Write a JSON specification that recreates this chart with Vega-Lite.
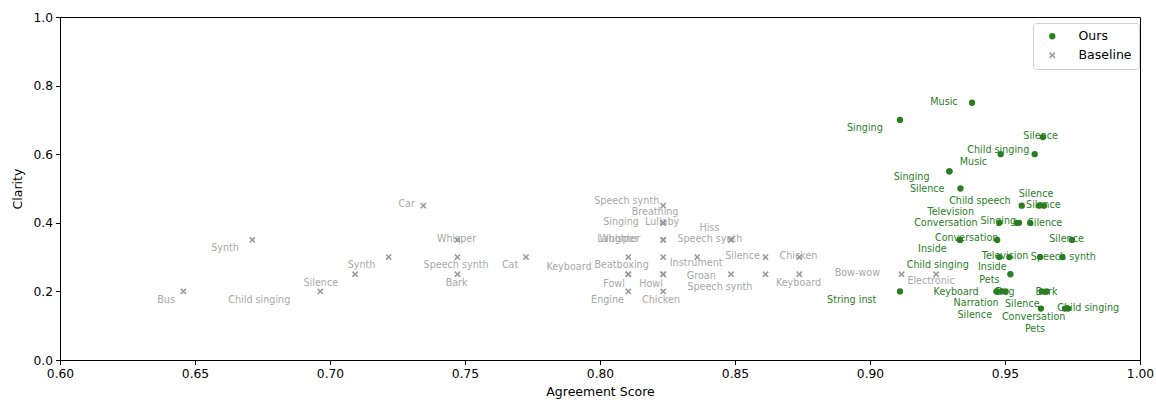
{
  "$schema": "https://vega.github.io/schema/vega-lite/v6.json",
  "width": 1080,
  "height": 343,
  "autosize": {"type": "none"},
  "padding": {"left": 60, "top": 17, "right": 16, "bottom": 40},
  "background": "white",
  "config": {
    "font": "DejaVu Sans",
    "view": {"stroke": "#000000", "strokeWidth": 1},
    "axis": {
      "domain": false,
      "grid": false,
      "tickColor": "#000000",
      "tickSize": 4.5,
      "tickWidth": 1,
      "labelColor": "#000000",
      "labelFont": "DejaVu Sans",
      "labelFontSize": 12.3,
      "labelFlush": false,
      "labelOverlap": false,
      "titleFont": "DejaVu Sans",
      "titleFontSize": 12.5,
      "titleFontWeight": "normal",
      "titleColor": "#000000"
    }
  },
  "data": {
    "values": [
      {"series": "Baseline", "score": 0.6457, "clarity": 0.20, "label": "Bus", "label_x": 0.6393, "label_y": 0.175},
      {"series": "Baseline", "score": 0.6712, "clarity": 0.35, "label": "Synth", "label_x": 0.6611, "label_y": 0.326},
      {"series": "Baseline", "score": 0.6964, "clarity": 0.20, "label": "Child singing", "label_x": 0.6738, "label_y": 0.175},
      {"series": "Baseline", "score": 0.7093, "clarity": 0.25, "label": "Silence", "label_x": 0.6966, "label_y": 0.225},
      {"series": "Baseline", "score": 0.7217, "clarity": 0.30, "label": "Synth", "label_x": 0.7117, "label_y": 0.276},
      {"series": "Baseline", "score": 0.7346, "clarity": 0.45, "label": "Car", "label_x": 0.7284, "label_y": 0.454},
      {"series": "Baseline", "score": 0.7472, "clarity": 0.35, "label": "Whisper", "label_x": 0.7469, "label_y": 0.352},
      {"series": "Baseline", "score": 0.7472, "clarity": 0.30, "label": "Speech synth", "label_x": 0.7467, "label_y": 0.276},
      {"series": "Baseline", "score": 0.7472, "clarity": 0.25, "label": "Bark", "label_x": 0.7469, "label_y": 0.225},
      {"series": "Baseline", "score": 0.7726, "clarity": 0.30, "label": "Cat", "label_x": 0.7667, "label_y": 0.276},
      {"series": "Baseline", "score": 0.8234, "clarity": 0.45, "label": "Speech synth", "label_x": 0.8099, "label_y": 0.464},
      {"series": "Baseline", "score": 0.8234, "clarity": 0.40, "label": "Breathing", "label_x": 0.8204, "label_y": 0.432},
      {"series": "Baseline", "score": 0.8234, "clarity": 0.40, "label": "Lullaby", "label_x": 0.823, "label_y": 0.401},
      {"series": "Baseline", "score": 0.8234, "clarity": 0.40, "label": "Singing", "label_x": 0.8078, "label_y": 0.401},
      {"series": "Baseline", "score": 0.8234, "clarity": 0.35, "label": "Whisper", "label_x": 0.807, "label_y": 0.352},
      {"series": "Baseline", "score": 0.8234, "clarity": 0.35, "label": "Laughter", "label_x": 0.807, "label_y": 0.352},
      {"series": "Baseline", "score": 0.8105, "clarity": 0.30, "label": "Beatboxing", "label_x": 0.808, "label_y": 0.276},
      {"series": "Baseline", "score": 0.8105, "clarity": 0.25, "label": "Keyboard", "label_x": 0.7885, "label_y": 0.271},
      {"series": "Baseline", "score": 0.8105, "clarity": 0.25, "label": "Fowl", "label_x": 0.8052, "label_y": 0.222},
      {"series": "Baseline", "score": 0.8105, "clarity": 0.20, "label": "Engine", "label_x": 0.8028, "label_y": 0.175},
      {"series": "Baseline", "score": 0.8234, "clarity": 0.30, "label": "", "label_x": 0.8234, "label_y": 0.30},
      {"series": "Baseline", "score": 0.8234, "clarity": 0.25, "label": "Howl", "label_x": 0.8189, "label_y": 0.222},
      {"series": "Baseline", "score": 0.8234, "clarity": 0.25, "label": "Groan", "label_x": 0.8375, "label_y": 0.246},
      {"series": "Baseline", "score": 0.8234, "clarity": 0.20, "label": "Chicken", "label_x": 0.8226, "label_y": 0.175},
      {"series": "Baseline", "score": 0.836, "clarity": 0.30, "label": "Instrument", "label_x": 0.8356, "label_y": 0.284},
      {"series": "Baseline", "score": 0.8485, "clarity": 0.35, "label": "Hiss", "label_x": 0.8405, "label_y": 0.384},
      {"series": "Baseline", "score": 0.8485, "clarity": 0.35, "label": "Speech synth", "label_x": 0.8407, "label_y": 0.352},
      {"series": "Baseline", "score": 0.8485, "clarity": 0.25, "label": "Speech synth", "label_x": 0.8444, "label_y": 0.214},
      {"series": "Baseline", "score": 0.8613, "clarity": 0.30, "label": "Silence", "label_x": 0.8528, "label_y": 0.303},
      {"series": "Baseline", "score": 0.8613, "clarity": 0.25, "label": "", "label_x": 0.8613, "label_y": 0.25},
      {"series": "Baseline", "score": 0.8738, "clarity": 0.30, "label": "Chicken", "label_x": 0.8735, "label_y": 0.302},
      {"series": "Baseline", "score": 0.8738, "clarity": 0.25, "label": "Keyboard", "label_x": 0.8735, "label_y": 0.225},
      {"series": "Baseline", "score": 0.9117, "clarity": 0.25, "label": "Bow-wow", "label_x": 0.8953, "label_y": 0.253},
      {"series": "Baseline", "score": 0.9245, "clarity": 0.25, "label": "Electronic", "label_x": 0.9226, "label_y": 0.231},
      {"series": "Ours", "score": 0.9378, "clarity": 0.75, "label": "Music", "label_x": 0.9274, "label_y": 0.753},
      {"series": "Ours", "score": 0.9111, "clarity": 0.70, "label": "Singing", "label_x": 0.8981, "label_y": 0.675},
      {"series": "Ours", "score": 0.964, "clarity": 0.65, "label": "Silence", "label_x": 0.9632, "label_y": 0.653},
      {"series": "Ours", "score": 0.9484, "clarity": 0.60, "label": "Child singing", "label_x": 0.9475, "label_y": 0.612},
      {"series": "Ours", "score": 0.961, "clarity": 0.60, "label": "", "label_x": 0.961, "label_y": 0.60},
      {"series": "Ours", "score": 0.9294, "clarity": 0.55, "label": "Music", "label_x": 0.9383, "label_y": 0.576},
      {"series": "Ours", "score": 0.9294, "clarity": 0.55, "label": "Singing", "label_x": 0.9154, "label_y": 0.534},
      {"series": "Ours", "score": 0.9335, "clarity": 0.50, "label": "Silence", "label_x": 0.9212, "label_y": 0.50},
      {"series": "Ours", "score": 0.9562, "clarity": 0.45, "label": "Child speech", "label_x": 0.9407, "label_y": 0.464},
      {"series": "Ours", "score": 0.9626, "clarity": 0.45, "label": "Silence", "label_x": 0.9615, "label_y": 0.484},
      {"series": "Ours", "score": 0.9644, "clarity": 0.45, "label": "Silence", "label_x": 0.9642, "label_y": 0.452},
      {"series": "Ours", "score": 0.9479, "clarity": 0.40, "label": "Singing", "label_x": 0.9475, "label_y": 0.405},
      {"series": "Ours", "score": 0.9543, "clarity": 0.40, "label": "Television", "label_x": 0.9299, "label_y": 0.432},
      {"series": "Ours", "score": 0.9552, "clarity": 0.40, "label": "", "label_x": 0.9552, "label_y": 0.40},
      {"series": "Ours", "score": 0.9593, "clarity": 0.40, "label": "Silence", "label_x": 0.9648, "label_y": 0.398},
      {"series": "Ours", "score": 0.9333, "clarity": 0.35, "label": "Conversation", "label_x": 0.9281, "label_y": 0.398},
      {"series": "Ours", "score": 0.9333, "clarity": 0.35, "label": "Inside", "label_x": 0.9231, "label_y": 0.325},
      {"series": "Ours", "score": 0.9471, "clarity": 0.35, "label": "Conversation", "label_x": 0.9358, "label_y": 0.357},
      {"series": "Ours", "score": 0.9748, "clarity": 0.35, "label": "Silence", "label_x": 0.9728, "label_y": 0.352},
      {"series": "Ours", "score": 0.9479, "clarity": 0.30, "label": "Television", "label_x": 0.95, "label_y": 0.303},
      {"series": "Ours", "score": 0.9516, "clarity": 0.30, "label": "Inside", "label_x": 0.9453, "label_y": 0.272},
      {"series": "Ours", "score": 0.963, "clarity": 0.30, "label": "Speech synth", "label_x": 0.9716, "label_y": 0.301},
      {"series": "Ours", "score": 0.9712, "clarity": 0.30, "label": "Child singing", "label_x": 0.9251, "label_y": 0.277},
      {"series": "Ours", "score": 0.952, "clarity": 0.25, "label": "Pets", "label_x": 0.9442, "label_y": 0.232},
      {"series": "Ours", "score": 0.9469, "clarity": 0.20, "label": "Keyboard", "label_x": 0.9319, "label_y": 0.199},
      {"series": "Ours", "score": 0.9469, "clarity": 0.20, "label": "Silence", "label_x": 0.9388, "label_y": 0.131},
      {"series": "Ours", "score": 0.9488, "clarity": 0.20, "label": "Dog", "label_x": 0.95, "label_y": 0.199},
      {"series": "Ours", "score": 0.9502, "clarity": 0.20, "label": "Narration", "label_x": 0.9393, "label_y": 0.165},
      {"series": "Ours", "score": 0.9636, "clarity": 0.20, "label": "Bark", "label_x": 0.9654, "label_y": 0.199},
      {"series": "Ours", "score": 0.9654, "clarity": 0.20, "label": "Silence", "label_x": 0.9564, "label_y": 0.164},
      {"series": "Ours", "score": 0.9633, "clarity": 0.15, "label": "Conversation", "label_x": 0.9606, "label_y": 0.124},
      {"series": "Ours", "score": 0.9722, "clarity": 0.15, "label": "Child singing", "label_x": 0.9808, "label_y": 0.152},
      {"series": "Ours", "score": 0.9734, "clarity": 0.15, "label": "Pets", "label_x": 0.9611, "label_y": 0.089},
      {"series": "Ours", "score": 0.9111, "clarity": 0.20, "label": "String inst", "label_x": 0.8932, "label_y": 0.175}
    ]
  },
  "layer": [
    {
      "mark": {"type": "text", "font": "DejaVu Sans", "fontSize": 9.6, "align": "center", "baseline": "middle"},
      "encoding": {
        "x": {"field": "label_x", "type": "quantitative", "scale": {"domain": [0.6, 1.0], "nice": false, "zero": false}},
        "y": {"field": "label_y", "type": "quantitative", "scale": {"domain": [0, 1], "nice": false, "zero": false}},
        "text": {"field": "label", "type": "nominal"},
        "color": {"condition": {"test": "datum.series === 'Ours'", "value": "#2a7e1f"}, "value": "#a8a8a8"}
      }
    },
    {
      "mark": {"type": "point", "filled": true, "size": 40, "opacity": 1},
      "encoding": {
        "x": {
          "field": "score", "type": "quantitative", "title": "Agreement Score",
          "scale": {"domain": [0.6, 1.0], "nice": false, "zero": false},
          "axis": {"values": [0.6, 0.65, 0.7, 0.75, 0.8, 0.85, 0.9, 0.95, 1.0], "format": ".2f", "labelPadding": 3, "titlePadding": 6}
        },
        "y": {
          "field": "clarity", "type": "quantitative", "title": "Clarity",
          "scale": {"domain": [0, 1], "nice": false, "zero": false},
          "axis": {"values": [0, 0.2, 0.4, 0.6, 0.8, 1.0], "format": ".1f", "labelPadding": 3, "titlePadding": 8}
        },
        "color": {
          "field": "series", "type": "nominal",
          "scale": {"domain": ["Ours", "Baseline"], "range": ["#2a7e1f", "#999999"]},
          "legend": {
            "title": null, "orient": "none", "legendX": 973, "legendY": 6,
            "fillColor": "white", "strokeColor": "#d0d0d0", "cornerRadius": 3, "padding": 7,
            "labelFont": "DejaVu Sans", "labelFontSize": 12.5, "labelColor": "#000000",
            "symbolSize": 40, "symbolOffset": 6, "labelOffset": 20, "rowPadding": 6
          }
        },
        "shape": {
          "field": "series", "type": "nominal",
          "scale": {"domain": ["Ours", "Baseline"], "range": ["circle", "M-1,-0.65L-0.65,-1L0,-0.35L0.65,-1L1,-0.65L0.35,0L1,0.65L0.65,1L0,0.35L-0.65,1L-1,0.65L-0.35,0Z"]}
        }
      }
    }
  ]
}
